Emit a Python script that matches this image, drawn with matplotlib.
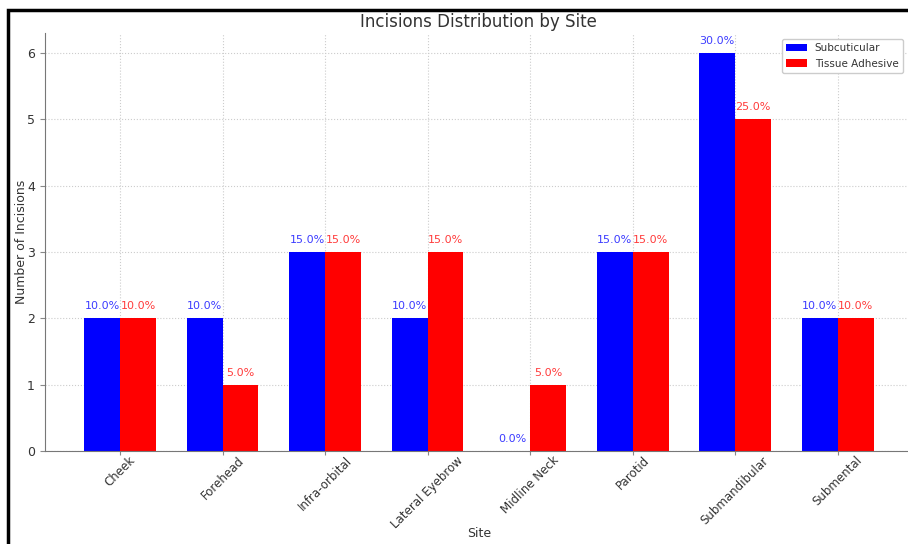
import numpy as np
import matplotlib.pyplot as plt
from matplotlib.patches import Rectangle

sites = ['Cheek', 'Forehead', 'Infra-orbital', 'Lateral Eyebrow',
         'Midline Neck', 'Parotid', 'Submandibular', 'Submental']
subcuticular = [2, 2, 3, 2, 0, 3, 6, 2]
tissue_adhesive = [2, 1, 3, 3, 1, 3, 5, 2]

sub_pct = [v / sum(subcuticular) * 100 for v in subcuticular]
ta_pct = [v / sum(tissue_adhesive) * 100 for v in tissue_adhesive]

W, H = 908, 544
fig = plt.figure(figsize=(W / 100, H / 100), dpi=100)
ax = fig.add_axes([44.7 / W, 1 - 451 / H, 868.3 / W, 418 / H])

x = np.arange(len(sites))
width = 0.35
b1 = ax.bar(x - width / 2, subcuticular, width, color='blue', label='Subcuticular')
b2 = ax.bar(x + width / 2, tissue_adhesive, width, color='red', label='Tissue Adhesive')

for bars, pct, col in [(b1, sub_pct, '#3c3cff'), (b2, ta_pct, '#ff3c3c')]:
    for bar, p in zip(bars, pct):
        ax.annotate(f'{p:.1f}%', (bar.get_x() + bar.get_width() / 2, bar.get_height()),
                    xytext=(0, 5), textcoords='offset points', ha='center', va='bottom',
                    fontsize=8, color=col)

ax.set_title('Incisions Distribution by Site', fontsize=12, color='#333333', pad=4)
ax.set_xlabel('Site', fontsize=9, color='#333333', labelpad=-3)
ax.set_ylabel('Number of Incisions', fontsize=9, color='#333333', labelpad=-1)
ax.set_xticks(x)
ax.set_xticklabels(sites, rotation=45, fontsize=8.5)
ax.tick_params(colors='#888888', labelcolor='#333333')
ax.tick_params(axis='x', length=3, pad=-1)
ax.tick_params(axis='y', labelsize=9)
ax.grid(True, linestyle=':', color='#cccccc', linewidth=0.8)
ax.set_axisbelow(True)
for s in ['top', 'right']:
    ax.spines[s].set_visible(False)
for s in ['left', 'bottom']:
    ax.spines[s].set_color('#777777')

leg = ax.legend(loc='upper right', bbox_to_anchor=(908 / W, 1 - 34 / H),
                bbox_transform=fig.transFigure, fontsize=7.5, framealpha=1)
for t in leg.get_texts():
    t.set_color('#333333')

# black frame around the figure
fig.patches.append(Rectangle((8 / W, -0.1), 1.2, 1 - 10 / H + 0.1, transform=fig.transFigure,
                             fill=False, edgecolor='black', linewidth=2.5, zorder=10))

fig.savefig('out.png', dpi=100)
